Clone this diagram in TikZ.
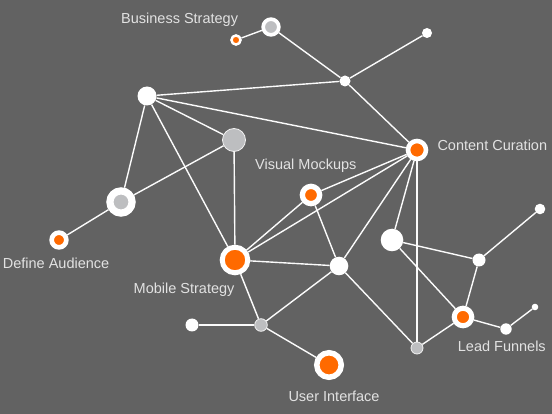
\documentclass[tikz,border=0pt]{standalone}
\usepackage{fontspec}
\setmainfont{Liberation Sans}
\usepackage{tikz}
\definecolor{bgdark}{HTML}{626262}
\definecolor{netorange}{HTML}{FF6A00}
\definecolor{netgray}{HTML}{BDBEC0}
\definecolor{labelgray}{HTML}{E2E2E2}

\begin{document}
\begin{tikzpicture}[x=1pt, y=-1pt,
  wdot/.style={circle, fill=white, inner sep=0pt, minimum size=#1},
  onode/.style 2 args={circle, fill=netorange, draw=white, inner sep=0pt,
              minimum size=#1, line width=#2},
  gring/.style 2 args={circle, fill=netgray, draw=white, inner sep=0pt,
              minimum size=#1, line width=#2},
  gdot/.style={circle, fill=netgray, draw=white!80!netgray, line width=0.8pt,
              inner sep=0pt, minimum size=#1},
  link/.style={draw=white!94!netgray, line width=1.4pt},
  lbl/.style={text=labelgray, inner sep=0pt, font=\fontsize{14.5}{17}\selectfont}
]
  \useasboundingbox (0,0) rectangle (552,414);
  \fill[bgdark] (0,0) rectangle (552,414);

  \node[onode={9.1pt}{2.5pt}]  (bss) at (236,40)  {};
  \node[gring={15.7pt}{3.7pt}] (bsr) at (271,27)  {};
  \node[wdot=11pt]             (ht)  at (345,81)  {};
  \node[wdot=10pt]             (tr)  at (427,33)  {};
  \node[wdot=19pt]             (lh)  at (147,96)  {};
  \node[gdot=23pt]             (gc)  at (234,140) {};
  \node[gring={22.2pt}{7.2pt}] (rg)  at (121,202) {};
  \node[onode={14.7pt}{4.7pt}] (da)  at (59,240)  {};
  \node[onode={25.6pt}{5pt}]   (ms)  at (235,260) {};
  \node[onode={17.3pt}{5.3pt}] (vm)  at (311,195) {};
  \node[onode={18pt}{4.6pt}]   (cc)  at (417,150) {};
  \node[wdot=18.6pt]           (wn)  at (339,266) {};
  \node[wdot=22.6pt]           (wb)  at (392,240) {};
  \node[wdot=13pt]             (rn)  at (479,260) {};
  \node[wdot=10.6pt]           (tr2) at (540,209) {};
  \node[onode={17.5pt}{5.1pt}] (lf)  at (463,317) {};
  \node[wdot=11.4pt]           (f1)  at (506,329) {};
  \node[wdot=6.6pt]            (f2)  at (535,307) {};
  \node[gdot=12pt]             (g2)  at (417,348) {};
  \node[gdot=12.6pt]           (g1)  at (261,325) {};
  \node[wdot=13pt]             (wl)  at (192,325) {};
  \node[onode={24.5pt}{5.5pt}] (ui)  at (329,365) {};

  \node[lbl, anchor=base west] (bslbl) at (121,24)    {Business Strategy};
  \node[lbl, anchor=base west] (cclbl) at (437.3,151) {Content Curation};
  \node[lbl, anchor=base west] (vmlbl) at (255,169.5) {Visual Mockups};
  \node[lbl, anchor=base west] (dalbl) at (2.7,268.5) {Define Audience};
  \node[lbl, anchor=base west] (mslbl) at (133.5,293.5) {Mobile Strategy};
  \node[lbl, anchor=base west] (lflbl) at (457.7,351.5) {Lead Funnels};
  \node[lbl, anchor=base west] (uilbl) at (288.3,401) {User Interface};

  \draw[link] (bss) -- (bsr);
  \draw[link] (bsr) -- (ht);
  \draw[link] (ht)  -- (tr);
  \draw[link] (ht)  -- (cc);
  \draw[link] (lh)  -- (ht);
  \draw[link] (lh)  -- (cc);
  \draw[link] (lh)  -- (gc);
  \draw[link] (lh)  -- (rg);
  \draw[link] (lh)  -- (ms);
  \draw[link] (gc)  -- (rg);
  \draw[link] (gc)  -- (ms);
  \draw[link] (rg)  -- (da);
  \draw[link] (cc)  -- (vm);
  \draw[link] (cc)  -- (ms);
  \draw[link] (cc)  -- (wn);
  \draw[link] (cc)  -- (wb);
  \draw[link] (cc)  -- (g2);
  \draw[link] (vm)  -- (ms);
  \draw[link] (vm)  -- (wn);
  \draw[link] (ms)  -- (wn);
  \draw[link] (ms)  -- (g1);
  \draw[link] (wn)  -- (g1);
  \draw[link] (wn)  -- (g2);
  \draw[link] (g1)  -- (wl);
  \draw[link] (g1)  -- (ui);
  \draw[link] (wb)  -- (rn);
  \draw[link] (wb)  -- (lf);
  \draw[link] (rn)  -- (tr2);
  \draw[link] (rn)  -- (lf);
  \draw[link] (lf)  -- (g2);
  \draw[link] (lf)  -- (f1);
  \draw[link] (f1)  -- (f2);
\end{tikzpicture}
\end{document}
